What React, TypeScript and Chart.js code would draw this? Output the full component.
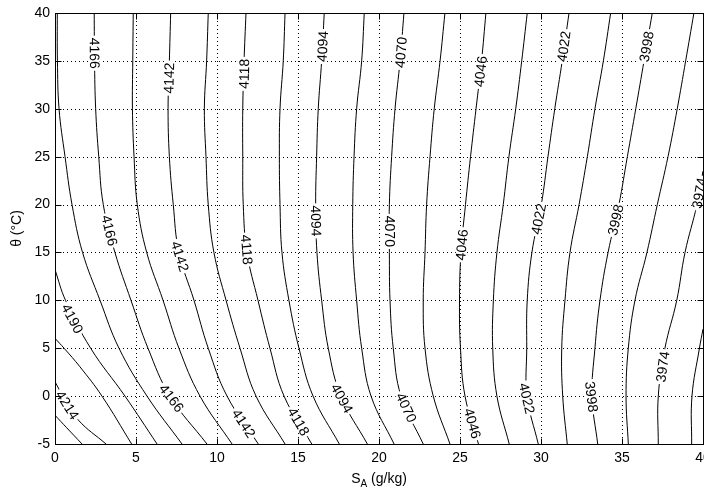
import React, { useEffect, useRef } from "react";
import { Chart, registerables } from "chart.js";

Chart.register(...registerables);

const FONT = '"Liberation Sans", Arial, Helvetica, sans-serif';

// axis ticks
const xTickValues = [0, 5, 10, 15, 20, 25, 30, 35, 40];
const yTickValues = [-5, 0, 5, 10, 15, 20, 25, 30, 35, 40];

// theta levels at which the full-height contours were read (°C)
const thetaGrid = [40, 35, 30, 25, 20, 15, 10, 5, 0, -5];

// SA (g/kg) of each contour at the thetaGrid levels
const sa4178 = [0.14, 0.15, 0.25, 0.62, 1.05, 1.7, 2.78, 3.95, 5.68, 7.84];
const sa4166 = [2.42, 2.44, 2.51, 2.7, 2.98, 3.7, 4.69, 5.74, 7.1, 9.38];
const sa4154 = [4.83, 4.8, 4.78, 4.88, 5.08, 5.66, 6.67, 7.65, 8.95, 10.93];
const sa4142 = [7.14, 7.06, 6.98, 7.06, 7.3, 7.65, 8.58, 9.46, 10.62, 12.55];
const sa4130 = [9.46, 9.36, 9.22, 9.32, 9.46, 9.81, 10.56, 11.42, 12.41, 14.2];
const sa4118 = [11.79, 11.67, 11.59, 11.59, 11.62, 11.85, 12.53, 13.27, 14.14, 15.85];
const sa4106 = [14.2, 14.09, 13.89, 13.85, 13.89, 14.01, 14.44, 15.06, 15.93, 17.55];
const sa4094 = [16.62, 16.46, 16.25, 16.15, 16.09, 16.17, 16.46, 16.87, 17.65, 19.28];
const sa4082 = [19.09, 18.93, 18.62, 18.46, 18.38, 18.4, 18.62, 18.93, 19.51, 20.93];
const sa4070 = [21.54, 21.3, 20.99, 20.78, 20.64, 20.64, 20.68, 20.88, 21.36, 22.73];
const sa4058 = [24.07, 23.77, 23.41, 23.15, 22.94, 22.84, 22.73, 22.84, 23.35, 24.38];
const sa4046 = [26.6, 26.33, 25.99, 25.65, 25.34, 25.06, 24.97, 25.03, 25.31, 26.14];
const sa4034 = [29.15, 28.81, 28.44, 28.02, 27.67, 27.28, 27.06, 27.02, 27.28, 28.04];
const sa4022 = [31.73, 31.31, 30.85, 30.43, 30.02, 29.44, 29.15, 29.12, 29.14, 29.83];
const sa4010 = [34.3, 33.85, 33.33, 32.86, 32.35, 31.79, 31.48, 31.28, 31.34, 31.62];
const sa3998 = [36.87, 36.36, 35.85, 35.33, 34.81, 34.14, 33.64, 33.33, 33.15, 33.5];
const sa3986 = [39.44, 38.93, 38.41, 37.84, 37.18, 36.54, 35.8, 35.39, 35.25, 35.39];

const fullLevels = [4178, 4166, 4154, 4142, 4130, 4118, 4106, 4094, 4082, 4070, 4058, 4046, 4034, 4022, 4010, 3998, 3986];
const fullSA = [sa4178, sa4166, sa4154, sa4142, sa4130, sa4118, sa4106, sa4094, sa4082, sa4070, sa4058, sa4046, sa4034, sa4022, sa4010, sa3998, sa3986];

// contours that enter/leave through the side axes: [SA, theta] pairs
const edge4226 = [[0, -2], [0.72, -3.3], [1.67, -5]];
const edge4214 = [[0, 1.5], [0.49, 0], [1.44, -2.5], [3.15, -5]];
const edge4202 = [[0, 6.03], [0.56, 5], [1.54, 3.06], [2.9, 0], [4.73, -5]];
const edge4190 = [[0, 13.2], [0.65, 10], [2.2, 5], [4.32, 0], [6.3, -5]];
const edge3974 = [[40, 23.5], [39.63, 20], [38.89, 15], [38.38, 10], [37.65, 5], [37.24, 0], [37.24, -5]];
const edge3962 = [[40, 7], [39.78, 5], [39.32, 0], [39.3, -5]];

const edgeLevels = [4226, 4214, 4202, 4190, 3974, 3962];
const edgeLines = [edge4226, edge4214, edge4202, edge4190, edge3974, edge3962];

// inline contour labels (level, SA, theta of label centre)
const labelLevels = [4166, 4142, 4118, 4094, 4070, 4046, 4022, 3998, 3974, 4166, 4142, 4118, 4094, 4070, 4046, 4022, 3998, 4190, 4214, 4166, 4142, 4118, 4094, 4070, 4046, 4022, 3998, 3974];
const labelSA = [2.45, 7.03, 11.67, 16.51, 21.35, 26.26, 31.4, 36.51, 39.76, 3.37, 7.72, 11.84, 16.12, 20.64, 25.1, 29.85, 34.6, 1.08, 0.77, 7.2, 11.65, 15.04, 17.72, 21.69, 25.78, 29.14, 33.12, 37.5];
const labelTheta = [35.8, 33.2, 33.65, 36.5, 35.9, 33.9, 36.5, 36.5, 21.2, 17.3, 14.6, 15.3, 18.3, 17.2, 15.8, 18.5, 18.4, 8.1, -0.93, -0.2, -2.84, -2.65, -0.23, -1.19, -2.84, -0.23, -0.07, 3.07];

const gridPlugin = {
  id: "matlabGrid",
  beforeDatasetsDraw(chart: any) {
    const { ctx, chartArea: a, scales } = chart;
    ctx.save();
    ctx.strokeStyle = "#000";
    ctx.lineWidth = 1;
    ctx.setLineDash([1, 3]);
    xTickValues.forEach((v) => {
      const x = Math.round(scales.x.getPixelForValue(v)) + 0.5;
      ctx.beginPath();
      ctx.moveTo(x, a.top);
      ctx.lineTo(x, a.bottom);
      ctx.stroke();
    });
    yTickValues.forEach((v) => {
      const y = Math.round(scales.y.getPixelForValue(v)) + 0.5;
      ctx.beginPath();
      ctx.moveTo(a.left, y);
      ctx.lineTo(a.right, y);
      ctx.stroke();
    });
    ctx.restore();
  },
  afterDatasetsDraw(chart: any) {
    const { ctx, chartArea: a, scales } = chart;
    ctx.save();
    ctx.beginPath();
    ctx.rect(a.left, a.top, a.right - a.left, a.bottom - a.top);
    ctx.clip();
    ctx.font = `14px ${FONT}`;
    ctx.textAlign = "center";
    ctx.textBaseline = "middle";
    labelLevels.forEach((lv, i) => {
      const di = chart.data.datasets.findIndex((d: any) => d.label === String(lv));
      if (di < 0) return;
      const pts: any[] = chart.getDatasetMeta(di).data;
      const px = scales.x.getPixelForValue(labelSA[i]);
      const py = scales.y.getPixelForValue(labelTheta[i]);
      let best = Infinity;
      let ang = 0;
      for (let k = 0; k < pts.length - 1; k++) {
        const p = pts[k];
        const q = pts[k + 1];
        const dx = q.x - p.x;
        const dy = q.y - p.y;
        const len2 = dx * dx + dy * dy || 1;
        let t = ((px - p.x) * dx + (py - p.y) * dy) / len2;
        t = Math.max(0, Math.min(1, t));
        const ex = p.x + t * dx - px;
        const ey = p.y + t * dy - py;
        const d2 = ex * ex + ey * ey;
        if (d2 < best) {
          best = d2;
          ang = Math.atan2(dy, dx);
        }
      }
      if (ang > Math.PI / 2) ang -= Math.PI;
      if (ang <= -Math.PI / 2) ang += Math.PI;
      const text = String(lv);
      const w = ctx.measureText(text).width;
      ctx.save();
      ctx.translate(px, py);
      ctx.rotate(ang);
      ctx.fillStyle = "#fff";
      ctx.fillRect(-w / 2 - 2, -5, w + 4, 10);
      ctx.fillStyle = "#000";
      ctx.fillText(text, 0, 1);
      ctx.restore();
    });
    ctx.restore();
  },
  afterDraw(chart: any) {
    const { ctx, chartArea: a, scales } = chart;
    ctx.save();
    ctx.strokeStyle = "#000";
    ctx.lineWidth = 1;
    ctx.setLineDash([]);
    const L = Math.round(a.left) + 0.5;
    const R = Math.round(a.right) + 0.5;
    const T = Math.round(a.top) + 0.5;
    const B = Math.round(a.bottom) + 0.5;
    ctx.strokeRect(L, T, R - L, B - T);
    const tl = 6;
    ctx.beginPath();
    xTickValues.forEach((v) => {
      const x = Math.round(scales.x.getPixelForValue(v)) + 0.5;
      ctx.moveTo(x, B);
      ctx.lineTo(x, B - tl);
      ctx.moveTo(x, T);
      ctx.lineTo(x, T + tl);
    });
    yTickValues.forEach((v) => {
      const y = Math.round(scales.y.getPixelForValue(v)) + 0.5;
      ctx.moveTo(L, y);
      ctx.lineTo(L + tl, y);
      ctx.moveTo(R, y);
      ctx.lineTo(R - tl, y);
    });
    ctx.stroke();

    // axis titles
    ctx.fillStyle = "#000";
    ctx.textBaseline = "alphabetic";
    ctx.textAlign = "left";
    const s1 = "S";
    const s2 = "A";
    const s3 = " (g/kg)";
    ctx.font = `14px ${FONT}`;
    const w1 = ctx.measureText(s1).width;
    const w3 = ctx.measureText(s3).width;
    ctx.font = `10px ${FONT}`;
    const w2 = ctx.measureText(s2).width;
    const cx = (a.left + a.right) / 2;
    const x0 = cx - (w1 + w2 + w3) / 2;
    ctx.font = `14px ${FONT}`;
    ctx.fillText(s1, x0, 483);
    ctx.font = `10px ${FONT}`;
    ctx.fillText(s2, x0 + w1, 487);
    ctx.font = `14px ${FONT}`;
    ctx.fillText(s3, x0 + w1 + w2, 483);

    ctx.save();
    ctx.translate(17, (a.top + a.bottom) / 2);
    ctx.rotate(-Math.PI / 2);
    ctx.textAlign = "center";
    ctx.textBaseline = "middle";
    ctx.fillText("θ (°C)", 0, 0);
    ctx.restore();
    ctx.restore();
  },
};

export default function App() {
  const canvasRef = useRef<HTMLCanvasElement | null>(null);

  useEffect(() => {
    if (!canvasRef.current) return;
    const datasets = [
      ...fullLevels.map((lv, i) => ({
        label: String(lv),
        data: thetaGrid.map((t, j) => ({ x: fullSA[i][j], y: t })),
      })),
      ...edgeLevels.map((lv, i) => ({
        label: String(lv),
        data: edgeLines[i].map((p) => ({ x: p[0], y: p[1] })),
      })),
    ].map((d) => ({
      ...d,
      borderColor: "#000",
      borderWidth: 1,
      pointRadius: 0,
      pointHoverRadius: 0,
      tension: 0.4,
      fill: false,
    }));

    const tickFont = { family: FONT, size: 14 };
    const chart = new Chart(canvasRef.current, {
      type: "line",
      data: { datasets },
      plugins: [gridPlugin],
      options: {
        animation: false,
        responsive: false,
        events: [],
        layout: { padding: { top: 13, right: 1, left: 0, bottom: 0 } },
        plugins: {
          legend: { display: false },
          tooltip: { enabled: false },
        },
        scales: {
          x: {
            type: "linear",
            min: 0,
            max: 40,
            grid: { display: false, drawTicks: false },
            border: { display: false },
            ticks: {
              stepSize: 5,
              padding: 6,
              maxRotation: 0,
              autoSkip: false,
              color: "#000",
              font: tickFont,
            },
            afterFit: (s: any) => {
              s.height = 45;
              s.paddingLeft = 0;
              s.paddingRight = 0;
            },
          },
          y: {
            type: "linear",
            min: -5,
            max: 40,
            grid: { display: false, drawTicks: false },
            border: { display: false },
            ticks: {
              stepSize: 5,
              padding: 5,
              autoSkip: false,
              color: "#000",
              font: tickFont,
            },
            afterFit: (s: any) => {
              s.width = 55;
              s.paddingTop = 0;
              s.paddingBottom = 0;
            },
          },
        },
      } as any,
    });
    return () => chart.destroy();
  }, []);

  return (
    <div style={{ position: "absolute", left: 0, top: 0, width: 704, height: 489, background: "#fff" }}>
      <canvas ref={canvasRef} width={704} height={489} style={{ display: "block" }} />
    </div>
  );
}
